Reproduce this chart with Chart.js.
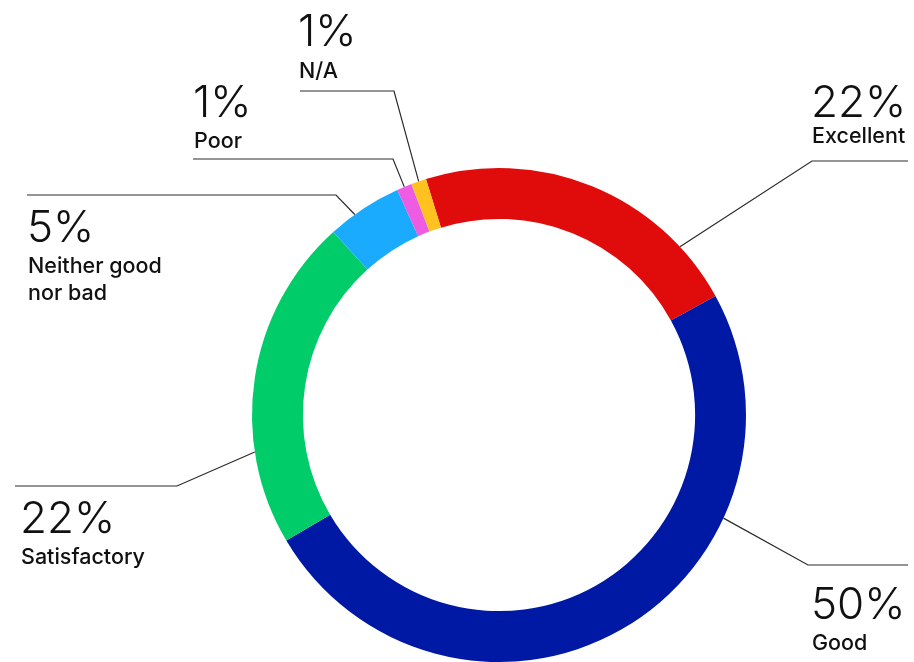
<!DOCTYPE html>
<html>
<head>
<meta charset="utf-8">
<script src="https://cdn.jsdelivr.net/npm/chart.js@4/dist/chart.umd.min.js"></script>
<style>
  html,body{margin:0;padding:0;background:#fff;}
  canvas{display:block;}
</style>
</head>
<body>
<canvas id="ring" width="914" height="662"></canvas>
<script>
// ---- data ----
const categories = ['Excellent', 'Good', 'Satisfactory', ['Neither good', 'nor bad'], 'Poor', 'N/A'];
const shares = [22, 50, 22, 5, 1, 1];

// ---- styles ----
const warna = ['#E00B0B', '#0019A5', '#00CC6A', '#1AABFF', '#EE5CE4', '#FFC21E'];

/* callout placement: t = where along the arc the leader leaves it */
const callouts = [
  {t:0.82, elbow:[812,161], end:[908,161], tx:811, numY:117, labY:143},
  {t:0.30, elbow:[808,565], end:[908,565], tx:811, numY:619, labY:650},
  {t:0.28, elbow:[177,486], end:[15,486],  tx:20,  numY:533, labY:564},
  {t:0.36, elbow:[336,195], end:[27,195],  tx:27,  numY:242, labY:273},
  {t:0.50, elbow:[393,159], end:[193,159], tx:193, numY:117, labY:148},
  {t:0.50, elbow:[394,91],  end:[300,91],  tx:298, numY:46,  labY:78}
];

const calloutPlugin = {
  id: 'callouts',
  afterDraw(chart){
    const ctx = chart.ctx;
    const meta = chart.getDatasetMeta(0);
    meta.data.forEach((arc, i) => {
      const c = callouts[i];
      const a = arc.startAngle + c.t * (arc.endAngle - arc.startAngle);
      const sx = arc.x + Math.cos(a) * arc.outerRadius;
      const sy = arc.y + Math.sin(a) * arc.outerRadius;
      ctx.save();
      ctx.strokeStyle = '#2a2a2a';
      ctx.lineWidth = 1.2;
      ctx.beginPath();
      ctx.moveTo(sx, sy);
      ctx.lineTo(c.elbow[0], c.elbow[1]);
      ctx.lineTo(c.end[0], c.end[1]);
      ctx.stroke();

      ctx.fillStyle = '#111';
      ctx.textAlign = 'left';
      ctx.textBaseline = 'alphabetic';
      ctx.font = '300 44px Inter, "Noto Sans", sans-serif';
      ctx.fillText(shares[i] + '%', c.tx, c.numY);
      ctx.font = '500 21.5px Inter, "Noto Sans", sans-serif';
      const baris = [].concat(chart.data.labels[i]);
      baris.forEach((s, k) => ctx.fillText(s, c.tx + 1, c.labY + k * 27));
      ctx.restore();
    });
  }
};

new Chart(document.getElementById('ring'), {
  type: 'doughnut',
  data: {
    labels: categories,
    datasets: [{
      data: shares,
      backgroundColor: warna,
      borderWidth: 0
    }]
  },
  options: {
    responsive: false,
    animation: false,
    rotation: -17.2,
    cutout: '79.4%',
    layout: {padding: {left: 252, right: 168, top: 168, bottom: 0}},
    plugins: {legend: {display: false}, tooltip: {enabled: false}}
  },
  plugins: [calloutPlugin]
});
</script>
</body>
</html>
